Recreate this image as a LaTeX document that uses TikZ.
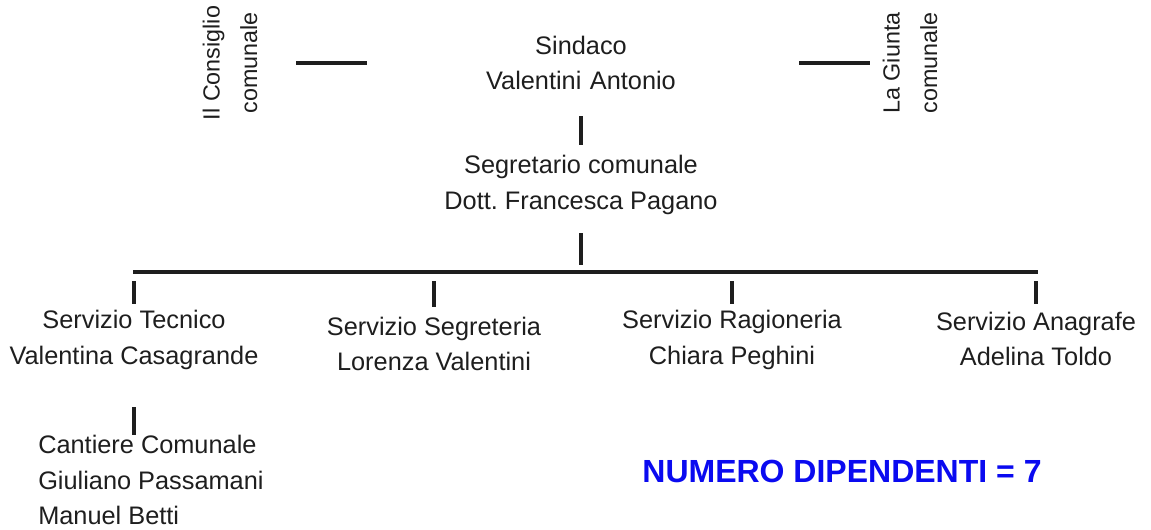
\documentclass[tikz,border=0pt]{standalone}
\usepackage{fontspec}
\setmainfont{Liberation Sans}
\usepackage{xcolor}
\usetikzlibrary{positioning}
\definecolor{orgblue}{RGB}{10, 10, 240}
\definecolor{orgblack}{RGB}{30, 30, 30}
\frenchspacing
\tikzset{
    orgnode/.style={inner sep=0pt, align=center, text=orgblack, font=\fontsize{19}{26.5}\selectfont},
    headnode/.style={orgnode, text width=150pt},
    sidenode/.style={inner sep=2pt, align=center, rotate=90, text=orgblack, font=\fontsize{17.5}{28}\selectfont},
    orgline/.style={line width=2.3pt, draw=orgblack},
    countnode/.style={inner sep=0pt, text=orgblue, font=\fontsize{24}{28}\selectfont\bfseries}
}

\begin{document}
\begin{tikzpicture}[x=0.75pt, y=-0.75pt]
                \useasboundingbox (0,0) rectangle (1151,529);
                \node[headnode] (sindaco) at (581,63) {Sindaco\\Valentini Antonio};
                \node[sidenode] (consiglio) at (230,63) {Il Consiglio\\comunale};
                \node[sidenode] (giunta) at (910,63) {La Giunta\\comunale};
                \node[orgnode] (segretario) at (581,185) {Segretario comunale\\Dott. Francesca Pagano};
                \coordinate (busL) at (133,272);
                \coordinate (busR) at (1038,272);
                \node[orgnode] (tecnico) at (134,340) {Servizio Tecnico\\Valentina Casagrande};
                \node[orgnode] (segreteria) at (434,344) {Servizio Segreteria\\Lorenza Valentini};
                \node[orgnode] (ragioneria) at (732,340) {Servizio Ragioneria\\Chiara Peghini};
                \node[orgnode] (anagrafe) at (1036,339) {Servizio Anagrafe\\Adelina Toldo};
                \node[orgnode, align=left, anchor=west] (cantiere) at (38,480) {Cantiere Comunale\\Giuliano Passamani\\Manuel Betti};
                \node[countnode] (numero) at (842,471) {NUMERO DIPENDENTI = 7};
                \draw[orgline, shorten <=27pt, shorten >=85.5pt] (consiglio) -- (sindaco);
                \draw[orgline, shorten <=88.5pt, shorten >=7.5pt] (sindaco) -- (giunta);
                \draw[orgline, shorten <=19.5pt, shorten >=8pt] (sindaco) -- (segretario);
                \draw[orgline, shorten <=14pt, shorten >=5pt] (segretario) -- (segretario |- busL);
                \draw[orgline] (busL) -- (busR);
                \foreach \n/\s in {tecnico/4.5pt, segreteria/7.5pt, ragioneria/4.5pt, anagrafe/6pt}
                    \draw[orgline, shorten <=6.75pt, shorten >=\s] (busL -| \n) -- (\n);
                \draw[orgline, shorten <=28pt, shorten >=0pt] (tecnico) -- (tecnico |- cantiere.north);
            \end{tikzpicture}
\end{document}
